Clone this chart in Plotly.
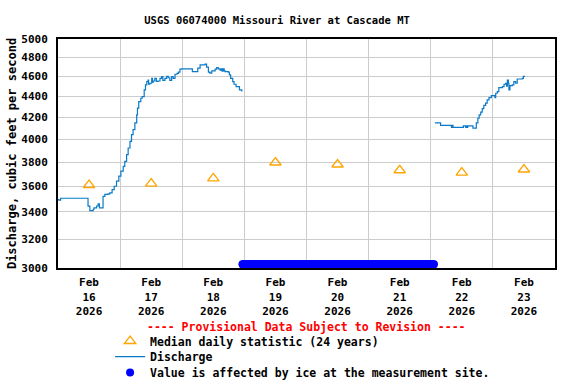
import pandas as pd
import plotly.graph_objects as go

# ---------------- data ----------------
BASE = "2026-02-16 00:00"

# Discharge (cfs), hours after Feb 16 00:00 -- segment before ice
SEG1_HOURS = [0.0, 0.3, 1.0, 11.2, 11.6, 12.3, 13.6, 13.9, 14.9, 15.5, 16.0, 16.5, 17.4, 18.1,
              19.4, 20.0, 20.9, 21.7, 22.6, 23.5, 24.3, 25.2, 25.8, 26.5, 27.1, 27.8, 28.4, 29.0,
              29.7, 30.4, 30.7, 31.2, 32.0, 32.5, 33.3, 33.8, 34.3, 34.8, 35.0, 35.5, 36.2, 36.5,
              36.8, 37.4, 38.0, 38.7, 39.4, 40.0, 40.5, 41.3, 42.0, 42.6, 43.2, 43.9, 44.5, 45.2,
              46.0, 46.5, 47.1, 47.8, 51.6, 51.9, 53.6, 54.0, 54.9, 56.8, 57.4, 58.1, 58.7, 59.4,
              60.7, 61.3, 61.9, 62.6, 63.0, 63.4, 63.8, 64.2, 64.5, 65.8, 66.2, 66.7, 67.5, 68.0,
              68.8, 70.1, 71.0]
SEG1_CFS = [3495, 3490, 3505, 3505, 3444, 3410, 3420, 3431, 3445, 3462, 3431, 3431, 3520, 3535,
            3540, 3548, 3573, 3600, 3641, 3682, 3723, 3764, 3805, 3863, 3921, 3979, 4039, 4085,
            4146, 4222, 4286, 4349, 4381, 4397, 4463, 4513, 4546, 4563, 4520, 4530, 4580, 4540,
            4553, 4580, 4550, 4553, 4580, 4597, 4560, 4580, 4600, 4586, 4560, 4597, 4580, 4622,
            4630, 4643, 4675, 4678, 4678, 4650, 4650, 4685, 4720, 4727, 4696, 4643, 4633, 4657,
            4675, 4692, 4678, 4665, 4678, 4655, 4678, 4660, 4650, 4643, 4615, 4580, 4546, 4520,
            4497, 4463, 4447]

# segment after ice
SEG2_HOURS = [145.6, 147.8, 152.0, 152.4, 152.6, 156.6, 157.5, 157.7, 158.1, 158.3, 160.3, 161.6,
              162.2, 162.7, 163.3, 163.9, 164.5, 165.2, 165.8, 166.5, 167.4, 168.8, 169.1, 169.7,
              170.3, 171.7, 172.3, 172.9, 173.3, 173.6, 174.0, 174.2, 174.6, 175.5, 176.1, 176.8,
              177.4, 179.4, 179.8, 180.4]
SEG2_CFS = [4146, 4124, 4105, 4124, 4105, 4120, 4105, 4120, 4105, 4120, 4099, 4146,
            4190, 4222, 4248, 4280, 4311, 4334, 4365, 4388, 4406, 4388, 4430, 4447,
            4487, 4497, 4520, 4530, 4500, 4563, 4530, 4463, 4507, 4513, 4546, 4530,
            4573, 4580, 4600, 4600]

# Median daily statistic (24 years), plotted at noon
MEDIAN_DATES = ["2026-02-16 12:00", "2026-02-17 12:00", "2026-02-18 12:00", "2026-02-19 12:00",
                "2026-02-20 12:00", "2026-02-21 12:00", "2026-02-22 12:00", "2026-02-23 12:00"]
MEDIAN_CFS = [3610, 3622, 3664, 3796, 3779, 3731, 3712, 3737]

# Ice-affected period (15-minute records)
ICE_START = "2026-02-18 23:15"
ICE_END = "2026-02-22 01:15"
ICE_LEVEL = 3025

# Axis ticks
Y_TICKS = [3000, 3200, 3400, 3600, 3800, 4000, 4200, 4400, 4600, 4800, 5000]
X_TICK_DATES = MEDIAN_DATES
X_TICK_LABELS = ["Feb<br>16<br>2026", "Feb<br>17<br>2026", "Feb<br>18<br>2026", "Feb<br>19<br>2026",
                 "Feb<br>20<br>2026", "Feb<br>21<br>2026", "Feb<br>22<br>2026", "Feb<br>23<br>2026"]

# ---------------- build ----------------
base = pd.Timestamp(BASE)
t1 = [base + pd.Timedelta(hours=h) for h in SEG1_HOURS]
t2 = [base + pd.Timedelta(hours=h) for h in SEG2_HOURS]
dis_x = t1 + [None] + t2
dis_y = SEG1_CFS + [None] + SEG2_CFS

ice_x = pd.date_range(ICE_START, ICE_END, freq="15min")
ice_y = [ICE_LEVEL] * len(ice_x)

FONT = "DejaVu Sans Mono"
LINE_COLOR = "#0a7ac8"
LEG_FONT = dict(family=FONT, size=11.5, color="black", weight="bold")
LEG_X = 0.1048

fig = go.Figure()
fig.add_trace(go.Scatter(x=dis_x, y=dis_y, mode="lines", name="Discharge",
                         line=dict(color=LINE_COLOR, width=1.2, shape="hv"),
                         connectgaps=False, legend="legend2"))
fig.add_trace(go.Scatter(x=MEDIAN_DATES, y=MEDIAN_CFS, mode="markers",
                         name="Median daily statistic (24 years)",
                         marker=dict(symbol="triangle-up-open", size=10, color="#ffa500",
                                     line=dict(width=1.3, color="#ffa500")),
                         legend="legend"))
fig.add_trace(go.Scatter(x=ice_x, y=ice_y, mode="markers",
                         name="Value is affected by ice at the measurement site.",
                         marker=dict(symbol="circle", size=8, color="#0000ff"),
                         legend="legend3"))

fig.update_layout(
    width=576, height=384,
    margin=dict(l=58, r=21, t=39, b=116, autoexpand=False),
    paper_bgcolor="white", plot_bgcolor="white",
    font=dict(family=FONT, size=11, color="black", weight="bold"),
    title=dict(text="USGS 06074000 Missouri River at Cascade MT",
               x=0.481, xanchor="center", y=0.948, yanchor="middle",
               font=dict(family=FONT, size=10.5, color="black", weight="bold")),
    showlegend=True,
    legend=dict(x=LEG_X, xanchor="left", y=-0.3188, yanchor="middle",
                bgcolor="rgba(0,0,0,0)", font=LEG_FONT, itemwidth=30),
    legend2=dict(x=LEG_X, xanchor="left", y=-0.3873, yanchor="middle",
                 bgcolor="rgba(0,0,0,0)", font=LEG_FONT, itemwidth=30),
    legend3=dict(x=LEG_X, xanchor="left", y=-0.4563, yanchor="middle",
                 bgcolor="rgba(0,0,0,0)", font=LEG_FONT, itemwidth=30),
    annotations=[dict(text="---- Provisional Data Subject to Revision ----",
                      xref="paper", yref="paper", x=0.5, y=-0.257,
                      xanchor="center", yanchor="middle", showarrow=False,
                      font=dict(family=FONT, size=11.5, color="#ff0000", weight="bold"))],
)

fig.update_xaxes(
    type="date", automargin=False,
    range=["2026-02-16 00:00", "2026-02-24 00:00"],
    tickmode="array", tickvals=X_TICK_DATES, ticktext=X_TICK_LABELS,
    ticks="outside", ticklen=3, tickcolor="rgba(0,0,0,0)",
    showgrid=False, zeroline=False,
    tickfont=dict(family=FONT, size=11, color="black", weight="bold"),
    showline=True, linecolor="black", linewidth=2, mirror=True,
    minor=dict(tick0="2026-02-16 00:00", dtick=86400000, showgrid=True,
               gridcolor="#cccccc", gridwidth=1, ticks=""),
)
fig.update_yaxes(
    type="log", automargin=False,
    range=[3.4771213, 3.69897],
    tickmode="array", tickvals=Y_TICKS, ticktext=[str(v) for v in Y_TICKS],
    ticks="outside", ticklen=6, tickcolor="rgba(0,0,0,0)",
    showgrid=True, gridcolor="#cccccc", gridwidth=1, zeroline=False,
    tickfont=dict(family=FONT, size=11, color="black", weight="bold"),
    showline=True, linecolor="black", linewidth=2, mirror=True,
    title=dict(text="Discharge, cubic feet per second", standoff=2,
               font=dict(family=FONT, size=12, color="black", weight="bold")),
)

fig.write_html("out.html", config={"displayModeBar": False},
               post_script="document.body.style.margin='0';")
